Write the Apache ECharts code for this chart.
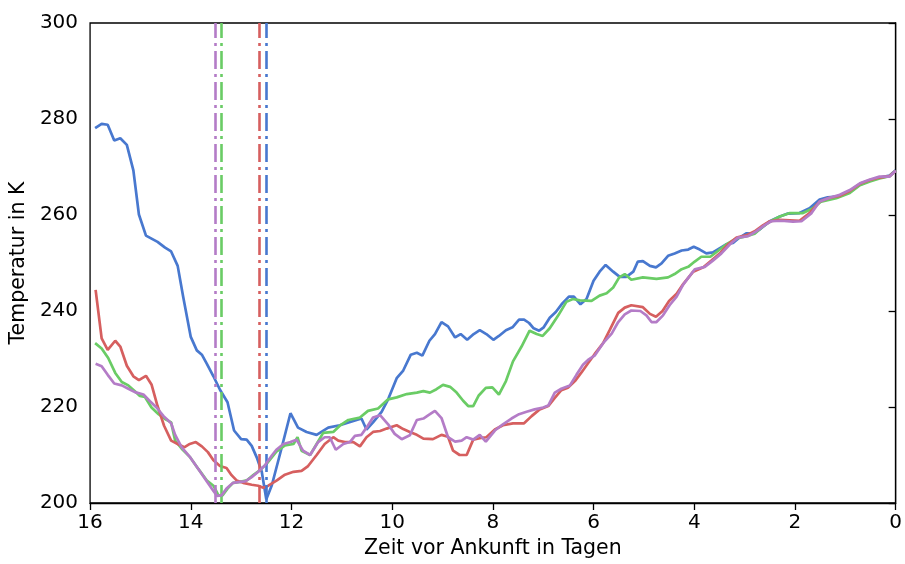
<!DOCTYPE html>
<html>
<head>
<meta charset="utf-8">
<script src="https://cdn.jsdelivr.net/npm/echarts@6/dist/echarts.min.js"></script>
<style>
  html, body { margin: 0; padding: 0; background: #fff; }
  #chart { width: 905px; height: 564px; }
</style>
</head>
<body>
<div id="chart"></div>
<script>
// [Tage vor Ankunft, Temperatur in K]
const blue = [
  [15.90, 278.1], [15.77, 279.0], [15.65, 278.8], [15.52, 275.5], [15.40, 276.0], [15.27, 274.6],
  [15.14, 269.3], [15.03, 260.1], [14.89, 255.7], [14.66, 254.4], [14.51, 253.2], [14.39, 252.4],
  [14.26, 249.4], [14.15, 242.9], [14.00, 234.6], [13.88, 231.8], [13.78, 230.9], [13.68, 229.0],
  [13.55, 226.4], [13.42, 223.6], [13.27, 221.0], [13.14, 215.1], [13.00, 213.3], [12.89, 213.2],
  [12.79, 211.9], [12.69, 209.5], [12.59, 206.5], [12.50, 200.8], [12.39, 203.7], [12.20, 211.3],
  [12.02, 218.7], [11.87, 215.7], [11.70, 214.8], [11.50, 214.2], [11.27, 215.7], [11.04, 216.2],
  [10.77, 217.1], [10.61, 217.6], [10.51, 215.3], [10.38, 216.8], [10.21, 219.0], [10.08, 221.6],
  [9.91, 226.0], [9.78, 227.6], [9.63, 230.9], [9.51, 231.3], [9.40, 230.7], [9.26, 233.8],
  [9.15, 235.2], [9.02, 237.7], [8.89, 236.8], [8.75, 234.5], [8.64, 235.2], [8.51, 234.0],
  [8.38, 235.2], [8.26, 236.0], [8.13, 235.2], [7.99, 234.0], [7.88, 234.8], [7.74, 236.0],
  [7.61, 236.6], [7.48, 238.2], [7.38, 238.2], [7.28, 237.5], [7.19, 236.4], [7.08, 235.9],
  [6.99, 236.6], [6.87, 238.6], [6.75, 239.8], [6.62, 241.6], [6.49, 243.0], [6.39, 243.0],
  [6.26, 241.4], [6.14, 242.5], [6.00, 246.3], [5.88, 248.2], [5.76, 249.6], [5.61, 248.2],
  [5.48, 247.1], [5.35, 247.1], [5.21, 248.2], [5.12, 250.3], [5.02, 250.4], [4.88, 249.4],
  [4.76, 249.1], [4.65, 249.9], [4.52, 251.5], [4.39, 252.0], [4.25, 252.6], [4.12, 252.8],
  [4.01, 253.4], [3.89, 252.8], [3.76, 252.0], [3.63, 252.2], [3.49, 253.1], [3.36, 253.9],
  [3.23, 254.2], [3.10, 255.3], [2.96, 256.2], [2.83, 256.1], [2.70, 257.0], [2.50, 258.7],
  [2.30, 259.7], [2.14, 260.3], [1.91, 260.4], [1.71, 261.4], [1.51, 263.2], [1.35, 263.7],
  [1.11, 263.9], [0.91, 264.8], [0.71, 266.3], [0.51, 267.2], [0.32, 267.8], [0.12, 268.2],
  [0.00, 269.3]
];

const green = [
  [15.90, 233.3], [15.77, 232.2], [15.64, 230.2], [15.50, 227.1], [15.37, 225.2], [15.24, 224.5],
  [15.11, 223.3], [15.01, 222.3], [14.91, 222.1], [14.78, 219.9], [14.64, 218.5], [14.51, 217.5],
  [14.39, 216.8], [14.31, 213.0], [14.18, 211.3], [14.01, 209.5], [13.85, 207.1], [13.68, 204.7],
  [13.55, 203.6], [13.45, 201.6], [13.37, 201.6], [13.27, 203.0], [13.16, 204.2], [13.02, 204.4],
  [12.89, 204.7], [12.76, 205.8], [12.63, 206.8], [12.49, 208.2], [12.30, 210.7], [12.13, 212.0],
  [11.96, 212.3], [11.88, 213.7], [11.80, 210.9], [11.63, 210.0], [11.50, 212.3], [11.37, 214.6],
  [11.17, 214.8], [11.04, 216.1], [10.87, 217.3], [10.64, 217.8], [10.48, 219.2], [10.28, 219.7],
  [10.08, 221.6], [9.91, 222.0], [9.71, 222.7], [9.51, 223.0], [9.38, 223.3], [9.25, 223.0],
  [9.12, 223.7], [8.99, 224.6], [8.85, 224.2], [8.72, 223.0], [8.59, 221.3], [8.49, 220.2],
  [8.39, 220.2], [8.28, 222.4], [8.14, 224.0], [8.01, 224.1], [7.88, 222.6], [7.74, 225.4],
  [7.60, 229.5], [7.43, 232.6], [7.27, 235.9], [7.13, 235.2], [7.01, 234.8], [6.87, 236.4],
  [6.70, 239.1], [6.54, 241.9], [6.41, 242.5], [6.27, 242.2], [6.04, 242.1], [5.88, 243.2],
  [5.74, 243.7], [5.61, 244.9], [5.49, 247.0], [5.38, 247.7], [5.25, 246.5], [5.02, 247.0],
  [4.75, 246.7], [4.52, 247.0], [4.39, 247.7], [4.25, 248.7], [4.12, 249.2], [3.99, 250.3],
  [3.86, 251.3], [3.68, 251.3], [3.53, 252.5], [3.36, 253.9], [3.16, 255.1], [2.96, 255.6],
  [2.80, 256.1], [2.67, 257.3], [2.50, 258.6], [2.30, 259.7], [2.10, 260.4], [1.84, 260.4],
  [1.64, 261.4], [1.48, 262.8], [1.18, 263.5], [0.91, 264.6], [0.71, 266.2], [0.51, 267.0],
  [0.32, 267.6], [0.12, 268.1], [0.00, 269.2]
];

const red = [
  [15.89, 244.4], [15.77, 234.3], [15.65, 231.9], [15.50, 233.8], [15.40, 232.6], [15.27, 228.6],
  [15.14, 226.4], [15.03, 225.6], [14.89, 226.5], [14.78, 224.7], [14.66, 220.2], [14.53, 216.1],
  [14.39, 213.0], [14.26, 212.3], [14.13, 211.6], [14.02, 212.3], [13.90, 212.7], [13.78, 211.8],
  [13.66, 210.6], [13.55, 208.9], [13.42, 207.7], [13.29, 207.3], [13.19, 205.8], [13.09, 204.7],
  [12.96, 204.2], [12.79, 203.8], [12.66, 203.6], [12.56, 203.2], [12.46, 203.6], [12.29, 204.7],
  [12.13, 205.9], [11.96, 206.5], [11.80, 206.7], [11.67, 207.7], [11.50, 210.0], [11.34, 212.3],
  [11.17, 213.7], [11.07, 213.0], [10.94, 212.7], [10.77, 212.7], [10.64, 211.8], [10.51, 213.7],
  [10.38, 214.8], [10.24, 215.0], [10.11, 215.5], [9.91, 216.2], [9.78, 215.4], [9.65, 214.8],
  [9.51, 214.2], [9.38, 213.4], [9.19, 213.3], [9.02, 214.2], [8.89, 213.8], [8.79, 210.9],
  [8.66, 210.0], [8.52, 210.0], [8.39, 213.2], [8.26, 213.5], [8.13, 213.7], [7.96, 215.3],
  [7.80, 216.2], [7.60, 216.6], [7.38, 216.6], [7.23, 218.1], [7.07, 219.5], [6.90, 220.2],
  [6.77, 221.9], [6.64, 223.5], [6.51, 224.0], [6.37, 225.4], [6.24, 227.2], [6.11, 229.1],
  [5.98, 231.0], [5.81, 233.3], [5.68, 236.0], [5.51, 239.6], [5.38, 240.7], [5.25, 241.2],
  [5.02, 240.8], [4.88, 239.4], [4.76, 238.8], [4.63, 240.0], [4.50, 242.1], [4.35, 243.6],
  [4.22, 245.6], [4.02, 248.2], [3.82, 249.1], [3.66, 250.5], [3.49, 252.0], [3.33, 253.9],
  [3.16, 255.3], [2.96, 255.8], [2.80, 256.6], [2.63, 257.9], [2.50, 258.7], [2.30, 259.0],
  [2.10, 258.9], [1.91, 258.8], [1.71, 260.4], [1.51, 262.8], [1.31, 263.6], [1.11, 264.0],
  [0.91, 265.0], [0.71, 266.5], [0.51, 267.3], [0.32, 267.8], [0.12, 268.1], [0.00, 269.2]
];

const purple = [
  [15.89, 229.0], [15.77, 228.5], [15.65, 226.7], [15.52, 224.9], [15.37, 224.5], [15.24, 223.8],
  [15.11, 223.1], [14.94, 222.6], [14.81, 221.2], [14.68, 219.9], [14.54, 218.1], [14.39, 216.6],
  [14.31, 214.2], [14.18, 211.6], [14.01, 209.5], [13.85, 207.1], [13.68, 204.5], [13.55, 202.5],
  [13.48, 201.5], [13.39, 201.6], [13.29, 203.0], [13.16, 204.2], [13.02, 204.4], [12.92, 204.5],
  [12.79, 205.4], [12.66, 206.5], [12.53, 207.8], [12.39, 209.9], [12.30, 211.1], [12.16, 212.3],
  [12.02, 212.7], [11.90, 213.2], [11.77, 210.9], [11.63, 210.0], [11.47, 212.7], [11.34, 213.7],
  [11.24, 213.7], [11.12, 211.1], [10.97, 212.3], [10.84, 212.7], [10.74, 214.0], [10.61, 214.2],
  [10.51, 215.7], [10.38, 217.8], [10.24, 218.3], [10.08, 216.4], [9.95, 214.4], [9.81, 213.3],
  [9.65, 214.1], [9.51, 217.3], [9.38, 217.6], [9.25, 218.5], [9.15, 219.2], [9.02, 217.7],
  [8.89, 213.7], [8.75, 212.8], [8.62, 213.0], [8.52, 213.7], [8.39, 213.2], [8.26, 214.2],
  [8.14, 212.8], [7.96, 215.1], [7.80, 216.4], [7.63, 217.6], [7.48, 218.5], [7.33, 219.0],
  [7.17, 219.5], [7.00, 219.9], [6.90, 220.3], [6.77, 223.0], [6.64, 223.8], [6.47, 224.5],
  [6.34, 226.7], [6.21, 228.8], [6.11, 229.8], [5.98, 230.7], [5.81, 233.3], [5.64, 235.3],
  [5.51, 237.7], [5.38, 239.3], [5.25, 240.1], [5.07, 240.0], [4.95, 239.1], [4.85, 237.7],
  [4.75, 237.7], [4.62, 239.1], [4.49, 241.2], [4.35, 243.0], [4.22, 245.5], [3.99, 248.7],
  [3.79, 249.2], [3.63, 250.5], [3.46, 252.0], [3.29, 253.9], [3.13, 255.3], [2.93, 255.6],
  [2.77, 256.6], [2.60, 257.9], [2.47, 258.7], [2.27, 258.8], [2.04, 258.6], [1.87, 258.7],
  [1.67, 260.4], [1.51, 262.8], [1.31, 263.6], [1.11, 264.2], [0.91, 265.2], [0.71, 266.6],
  [0.51, 267.4], [0.32, 268.0], [0.12, 268.0], [0.00, 269.2]
];

// Tag des jeweiligen Minimums (senkrechte Strich-Punkt-Linien)
const minDays = [12.51, 13.39, 12.64, 13.51];
const colors = ['#4878CF', '#6ACC65', '#D65F5F', '#B47CC7'];
const xTicks = [0, 2, 4, 6, 8, 10, 12, 14, 16];
const yTicks = [200, 220, 240, 260, 280, 300];

const FONT = 'DejaVu Sans';

const chart = echarts.init(document.getElementById('chart'));

const seriesData = [blue, green, red, purple];

chart.setOption({
  animation: false,
  grid: {
    left: 90, right: 9, top: 23, bottom: 56,
    show: true, borderColor: '#000', borderWidth: 1.3, containLabel: false
  },
  xAxis: {
    type: 'value',
    inverse: true,
    min: xTicks[0], max: xTicks[xTicks.length - 1], interval: 2,
    name: 'Zeit vor Ankunft in Tagen',
    nameLocation: 'middle',
    nameGap: 35,
    nameTextStyle: { fontFamily: FONT, fontSize: 20.5, color: '#000' },
    axisLine: { show: true, lineStyle: { color: '#000', width: 1.3 } },
    axisTick: { show: true, inside: false, length: 7, lineStyle: { color: '#000', width: 1.3 } },
    axisLabel: { fontFamily: FONT, fontSize: 20, color: '#000', margin: 10 },
    splitLine: { show: false }
  },
  yAxis: {
    type: 'value',
    min: yTicks[0], max: yTicks[yTicks.length - 1], interval: 20,
    name: 'Temperatur in K',
    nameLocation: 'middle',
    nameGap: 53,
    nameTextStyle: { fontFamily: FONT, fontSize: 20.5, color: '#000' },
    axisLine: { show: true, lineStyle: { color: '#000', width: 1.3 } },
    axisTick: { show: true, inside: false, length: 7, lineStyle: { color: '#000', width: 1.3 } },
    axisLabel: { fontFamily: FONT, fontSize: 20, color: '#000', margin: 12 },
    splitLine: { show: false }
  },
  series: seriesData.map((d, i) => ({
    type: 'line',
    data: d,
    showSymbol: false,
    symbol: 'none',
    lineStyle: { color: colors[i], width: 2.7 },
    itemStyle: { color: colors[i] },
    z: 2 + i,
    markLine: {
      silent: true,
      symbol: 'none',
      label: { show: false },
      lineStyle: { color: colors[i], width: 2.6, type: [18, 5, 3, 5] },
      data: [{ xAxis: minDays[i] }]
    }
  }))
});
</script>
</body>
</html>
